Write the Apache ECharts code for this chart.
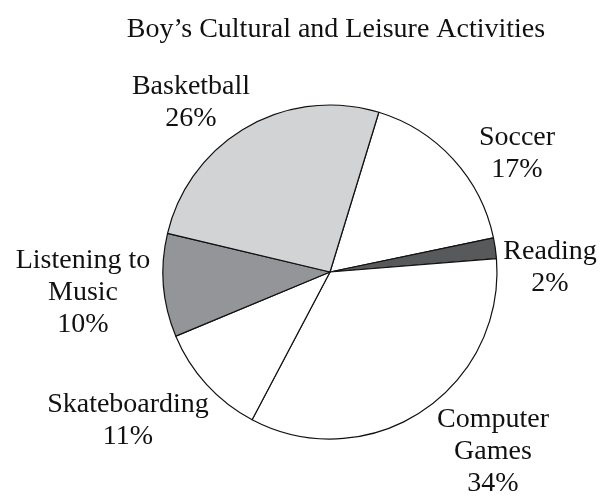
<!DOCTYPE html>
<html>
<head>
<meta charset="utf-8">
<script src="https://cdn.jsdelivr.net/npm/echarts@6/dist/echarts.min.js"></script>
<style>
  html, body { margin: 0; padding: 0; background: #fff; }
  #chart { width: 600px; height: 496px; }
</style>
</head>
<body>
<div id="chart"></div>
<script>
// Activities, listed clockwise starting from the top boundary
const activities = ['Soccer', 'Reading', 'Computer\nGames', 'Skateboarding', 'Listening to\nMusic', 'Basketball'];
const percents = [17, 2, 34, 11, 10, 26];
const fills = ['#ffffff', '#58595b', '#ffffff', '#ffffff', '#939598', '#d1d3d4'];

// Label anchor points (centre of each text block)
const labelAnchors = [[517, 154], [550, 268], [493, 452], [128, 421], [83, 293], [191, 103]];

const FONT = '"Liberation Serif", "Times New Roman", serif';

const chart = echarts.init(document.getElementById('chart'), null, { renderer: 'canvas' });
chart.setOption({
  animation: false,
  backgroundColor: '#ffffff',
  title: {
    text: 'Boy\u2019s Cultural and Leisure Activities',
    left: 331,
    top: 11,
    textAlign: 'center',
    textStyle: { fontFamily: FONT, fontWeight: 'normal', fontSize: 28, color: '#111' }
  },
  series: [{
    type: 'pie',
    center: [330, 272],
    radius: 167,
    startAngle: 73,
    clockwise: true,
    data: activities.map((name, i) => ({
      name: name,
      value: percents[i],
      itemStyle: { color: fills[i] }
    })),
    itemStyle: { borderColor: '#111', borderWidth: 1.2 },
    emphasis: { disabled: true },
    label: {
      show: true,
      position: 'outside',
      formatter: p => p.name + '\n' + p.value + '%',
      fontFamily: FONT,
      fontSize: 28,
      lineHeight: 32,
      color: '#111',
      align: 'center',
      overflow: 'none',
      width: 240
    },
    labelLine: { show: false },
    labelLayout: p => ({
      x: labelAnchors[p.dataIndex][0],
      y: labelAnchors[p.dataIndex][1],
      align: 'center',
      verticalAlign: 'middle'
    })
  }]
});
</script>
</body>
</html>
